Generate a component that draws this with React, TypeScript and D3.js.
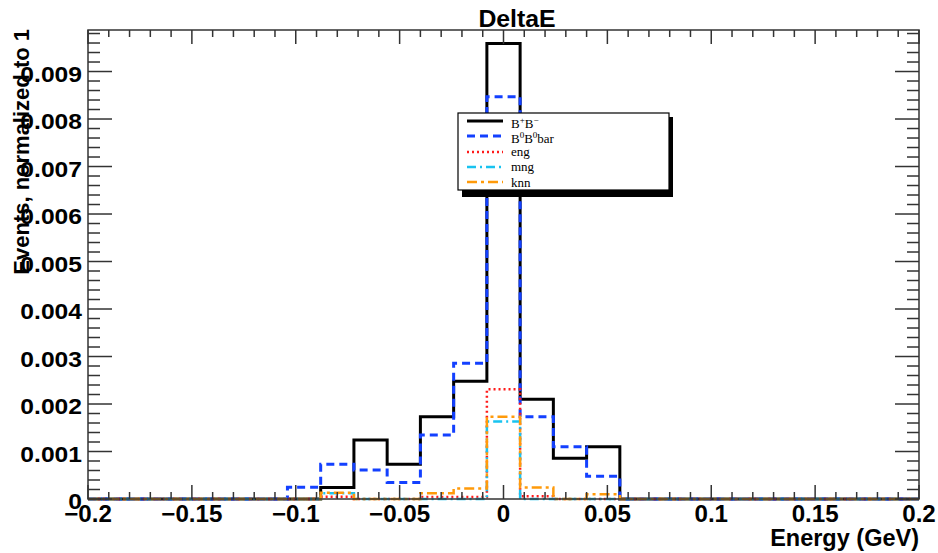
import React from "react";
import * as d3 from "d3";

// Binning of the histograms (25 bins from -0.2 to 0.2)
const BIN_LO = -0.2;
const BIN_W = 0.016;
const N_BINS = 25;

// Series values (events, normalized to 1), one value per bin
const BpBm = [0, 0, 0, 0, 0, 0, 0, 0.00024, 0.00124, 0.00073, 0.00173, 0.00248, 0.00959, 0.0021, 0.00086, 0.0011, 0, 0, 0, 0, 0, 0, 0, 0, 0];
const B0B0bar = [0, 0, 0, 0, 0, 0, 0.00025, 0.00073, 0.00061, 0.00035, 0.00135, 0.00286, 0.00847, 0.00173, 0.0011, 0.00048, 0, 0, 0, 0, 0, 0, 0, 0, 0];
const eng = [0, 0, 0, 0, 0, 0, 0, 0.00005, 0, 0, 0.00004, 0.00004, 0.00231, 0.00006, 0, 0, 0, 0, 0, 0, 0, 0, 0, 0, 0];
const mng = [0, 0, 0, 0, 0, 0, 0, 0.00012, 0, 0, 0, 0, 0.00163, 0, 0, 0, 0, 0, 0, 0, 0, 0, 0, 0, 0];
const knn = [0, 0, 0, 0, 0, 0, 0, 0.00013, 0, 0, 0.00012, 0.00022, 0.00173, 0.00024, 0, 0.0001, 0, 0, 0, 0, 0, 0, 0, 0, 0];

// Tick labels
const xTickValues = [-0.2, -0.15, -0.1, -0.05, 0, 0.05, 0.1, 0.15, 0.2];
const xTickLabels = ["\u22120.2", "\u22120.15", "\u22120.1", "\u22120.05", "0", "0.05", "0.1", "0.15", "0.2"];
const yTickValues = [0, 0.001, 0.002, 0.003, 0.004, 0.005, 0.006, 0.007, 0.008, 0.009];
const yTickLabels = ["0", "0.001", "0.002", "0.003", "0.004", "0.005", "0.006", "0.007", "0.008", "0.009"];

const TITLE = "DeltaE";
const X_TITLE = "Energy (GeV)";
const Y_TITLE = "Events, normalized to 1";

const W = 938;
const H = 553;
const L = 88, R = 919, T = 30, B = 499;
const Y_MAX = 0.009874;

const SANS = "'Liberation Sans', Arial, Helvetica, sans-serif";
const SERIF = "'Liberation Serif', 'Times New Roman', serif";

const series = [
  { name: "BpBm", values: BpBm, color: "#000000", dash: "none", width: 3 },
  { name: "B0B0bar", values: B0B0bar, color: "#1340ff", dash: "8,5", width: 3 },
  { name: "eng", values: eng, color: "#ff1a1a", dash: "2,3", width: 2.5 },
  { name: "mng", values: mng, color: "#19c3f0", dash: "9,4,2,4", width: 2.5 },
  { name: "knn", values: knn, color: "#ff9a0a", dash: "10,4,3,4", width: 2.5 },
];

export default function App() {
  const x = d3.scaleLinear().domain([-0.2, 0.2]).range([L, R]);
  const y = d3.scaleLinear().domain([0, Y_MAX]).range([B, T]);
  const edges = d3.range(N_BINS + 1).map((i) => BIN_LO + BIN_W * i);

  const stepPath = (vals: number[]) => {
    let d = `M${x(edges[0])},${y(vals[0])}`;
    vals.forEach((v, i) => {
      d += `L${x(edges[i])},${y(v)}L${x(edges[i + 1])},${y(v)}`;
    });
    return d;
  };

  const xMinor = d3.range(0, 41).map((i) => -0.2 + i * 0.01);
  const yMinor = d3.range(0, 50).map((i) => i * 0.0002).filter((v) => v <= Y_MAX);

  const axisColor = "#333";

  const legendLines = [
    { s: series[0], ly: 121, ty: 128 },
    { s: series[1], ly: 136, ty: 142.5 },
    { s: series[2], ly: 152, ty: 155.5 },
    { s: series[3], ly: 167, ty: 170.5 },
    { s: series[4], ly: 182, ty: 187 },
  ];

  return (
    <svg width={W} height={H} style={{ position: "absolute", left: 0, top: 0, background: "#fff" }}>
      <rect x={0} y={0} width={W} height={H} fill="#fff" />

      {/* histograms */}
      {series.map((s) => (
        <path
          key={s.name}
          d={stepPath(s.values)}
          fill="none"
          stroke={s.color}
          strokeWidth={s.width}
          strokeDasharray={s.dash}
          strokeLinejoin="miter"
        />
      ))}

      {/* frame */}
      <rect x={L} y={T} width={R - L} height={B - T} fill="none" stroke={axisColor} strokeWidth={1.5} />

      {/* x ticks (bottom and top) */}
      {xMinor.map((v, i) => {
        const major = i % 5 === 0;
        const len = major ? 14 : 7;
        return (
          <g key={"xt" + i} stroke={axisColor} strokeWidth={1.5}>
            <line x1={x(v)} x2={x(v)} y1={B} y2={B - len} />
            <line x1={x(v)} x2={x(v)} y1={T} y2={T + len} />
          </g>
        );
      })}

      {/* y ticks (left and right) */}
      {yMinor.map((v, i) => {
        const major = i % 5 === 0;
        const len = major ? 24 : 12;
        return (
          <g key={"yt" + i} stroke={axisColor} strokeWidth={1.5}>
            <line x1={L} x2={L + len} y1={y(v)} y2={y(v)} />
            <line x1={R} x2={R - len} y1={y(v)} y2={y(v)} />
          </g>
        );
      })}

      {/* x tick labels */}
      {xTickValues.map((v, i) => (
        <text key={"xl" + i} transform={`translate(${x(v)},${B + 23}) scale(1.05,1)`} textAnchor="middle" fontFamily={SANS} fontWeight="bold" fontSize={23} fill="#000">
          {xTickLabels[i]}
        </text>
      ))}

      {/* y tick labels */}
      {yTickValues.map((v, i) => (
        <text key={"yl" + i} transform={`translate(82,${y(v) + 10}) scale(1.12,1)`} textAnchor="end" fontFamily={SANS} fontWeight="bold" fontSize={22} fill="#000">
          {yTickLabels[i]}
        </text>
      ))}

      {/* axis titles */}
      <text x={919} y={546} textAnchor="end" fontFamily={SANS} fontWeight="bold" fontSize={23.5} fill="#000">
        {X_TITLE}
      </text>
      <text transform="translate(29,29) rotate(-90)" textAnchor="end" fontFamily={SANS} fontWeight="bold" fontSize={22} fill="#000">
        {Y_TITLE}
      </text>

      {/* title */}
      <text transform="translate(517,27) scale(1.08,1)" textAnchor="middle" fontFamily={SANS} fontWeight="bold" fontSize={23} fill="#000">
        {TITLE}
      </text>

      {/* legend */}
      <rect x={462} y={117} width={211} height={80} fill="#000" />
      <rect x={458} y={113} width={211} height={77} fill="#fff" stroke="#000" strokeWidth={1.2} />
      {legendLines.map(({ s, ly }) => (
        <line key={"ll" + s.name} x1={467} x2={503} y1={ly} y2={ly} stroke={s.color} strokeWidth={s.width} strokeDasharray={s.dash} />
      ))}
      <text x={511} y={legendLines[0].ty} fontFamily={SERIF} fontSize={13} fill="#000">
        B<tspan fontSize={9} dy={-5}>+</tspan>
        <tspan dy={5}>B</tspan>
        <tspan fontSize={9} dy={-5}>{"\u2212"}</tspan>
      </text>
      <text x={511} y={legendLines[1].ty} fontFamily={SERIF} fontSize={13} fill="#000">
        B<tspan fontSize={9} dy={-5}>0</tspan>
        <tspan dy={5}>B</tspan>
        <tspan fontSize={9} dy={-5}>0</tspan>
        <tspan dy={5}>bar</tspan>
      </text>
      <text x={511} y={legendLines[2].ty} fontFamily={SERIF} fontSize={13} fill="#000">eng</text>
      <text x={511} y={legendLines[3].ty} fontFamily={SERIF} fontSize={13} fill="#000">mng</text>
      <text x={511} y={legendLines[4].ty} fontFamily={SERIF} fontSize={13} fill="#000">knn</text>
    </svg>
  );
}
